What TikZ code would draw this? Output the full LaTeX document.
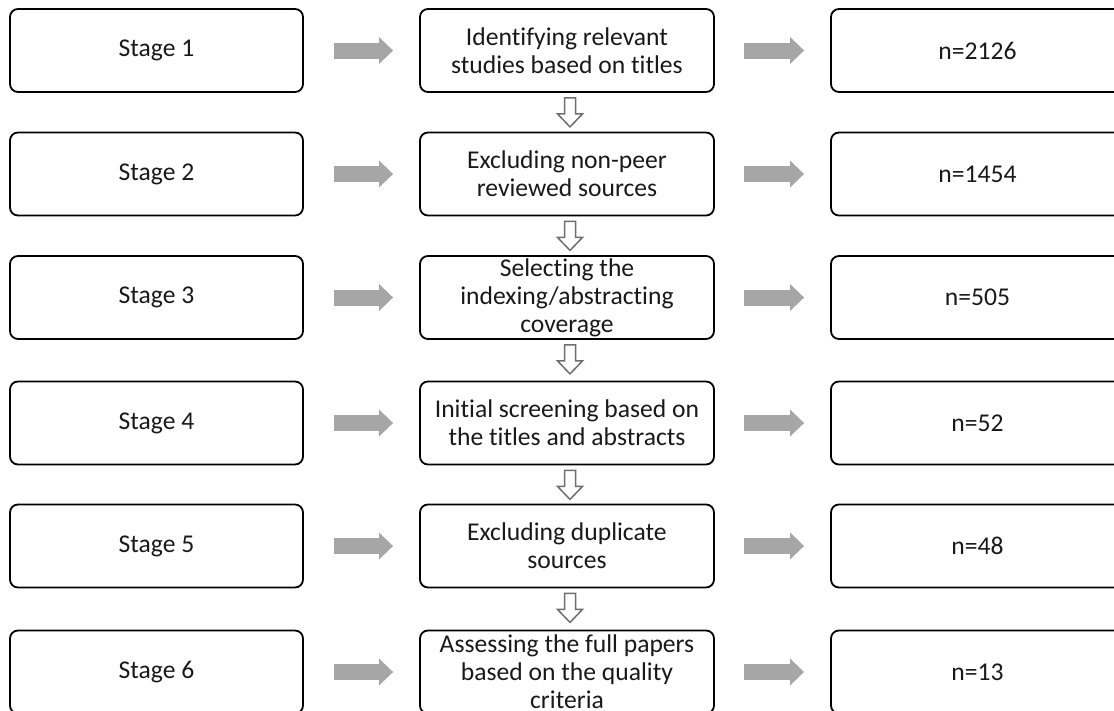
\documentclass[tikz,border=0pt]{standalone}
\usepackage{fontspec}
\setmainfont[Ligatures=NoCommon]{Carlito}
\usetikzlibrary{arrows.meta,calc}
\definecolor{arrowgray}{RGB}{166,166,166}
\definecolor{outlinegray}{RGB}{110,110,110}
\definecolor{txt}{RGB}{25,25,25}
\begin{document}
\begin{tikzpicture}[x=1pt,y=-1pt,
  box/.style={draw=black, line width=1.8pt, rounded corners=8pt,
    minimum width=293pt, minimum height=83pt, inner sep=0pt,
    align=center, text=txt, font=\fontsize{25.6}{28}\selectfont},
  midbox/.style={box, minimum width=294pt},
  grayarrow/.style={draw=arrowgray, line width=16pt,
    -{Triangle[length=14pt,width=26pt]}},
  hollow/.style={draw=outlinegray, line width=1.5pt, fill=white, line join=miter}]
\useasboundingbox (0,0) rectangle (1114,710);
\clip (0,0) rectangle (1114,710);

% row nodes
\node[box]    (s1) at (156.5,50.5) {Stage 1};
\node[midbox] (m1) at (567,50.5)   {Identifying relevant\\studies based on titles};
\node[box]    (r1) at (977.5,50.5) {n=2126};

\node[box]    (s2) at (156.5,174) {Stage 2};
\node[midbox] (m2) at (567,174)   {Excluding non-peer\\reviewed sources};
\node[box]    (r2) at (977.5,174) {n=1454};

\node[box]    (s3) at (156.5,297.5) {Stage 3};
\node[midbox] (m3) at (567,297.5)   {Selecting the\\indexing/abstracting\\coverage};
\node[box]    (r3) at (977.5,297.5) {n=505};

\node[box]    (s4) at (156.5,423) {Stage 4};
\node[midbox] (m4) at (567,423)   {Initial screening based on\\the titles and abstracts};
\node[box]    (r4) at (977.5,423) {n=52};

\node[box]    (s5) at (156.5,546) {Stage 5};
\node[midbox] (m5) at (567,546)   {Excluding duplicate\\sources};
\node[box]    (r5) at (977.5,546) {n=48};

\node[box]    (s6) at (156.5,672) {Stage 6};
\node[midbox] (m6) at (567,672)   {Assessing the full papers\\based on the quality\\criteria};
\node[box]    (r6) at (977.5,672) {n=13};

% horizontal gray arrows
\foreach \i in {1,...,6}{
  \draw[grayarrow] ($(s\i.east)+(30,0)$) -- ($(m\i.west)+(-26,0)$);
  \draw[grayarrow] ($(m\i.east)+(29,0)$) -- ($(r\i.west)+(-26,0)$);
}

% vertical hollow arrows
\foreach \i/\j in {1/2,2/3,3/4,4/5,5/6}{
  \draw[hollow] ($(m\i.south)+(-2.5,5)$) -- ++(11,0) -- ++(0,16) -- ++(7,0)
    -- ++(-12.5,13) -- ++(-12.5,-13) -- ++(7,0) -- cycle;
}
\end{tikzpicture}
\end{document}
